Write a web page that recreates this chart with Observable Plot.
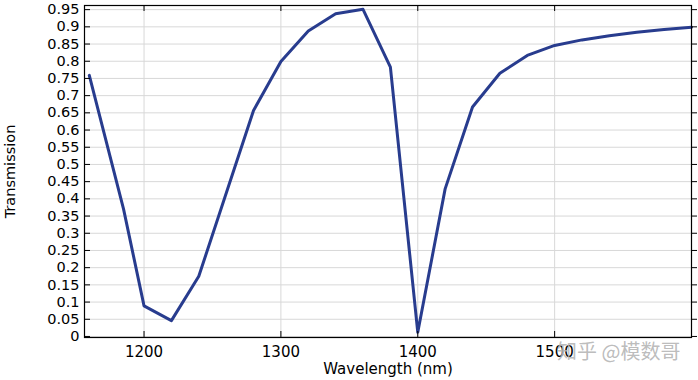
<!DOCTYPE html>
<html>
<head>
<meta charset="utf-8">
<script src="https://cdn.jsdelivr.net/npm/d3@7"></script>
<script src="https://cdn.jsdelivr.net/npm/@observablehq/plot@0.6"></script>
<style>
  html, body { margin: 0; padding: 0; background: #fff; }
  #chart svg { display: block; }
</style>
</head>
<body>
<div id="chart"></div>
<script>
const wavelength = [1160, 1185, 1200, 1220, 1240, 1280, 1300, 1320, 1340, 1360, 1380, 1400, 1420, 1440, 1460, 1480, 1500, 1520, 1540, 1560, 1580, 1600];
const transmission = [0.759, 0.371, 0.089, 0.046, 0.175, 0.657, 0.799, 0.888, 0.938, 0.951, 0.783, 0.012, 0.429, 0.667, 0.765, 0.817, 0.846, 0.862, 0.874, 0.884, 0.892, 0.899];
const xTicks = [1200, 1300, 1400, 1500];
const yTicks = [0, 0.05, 0.1, 0.15, 0.2, 0.25, 0.3, 0.35, 0.4, 0.45, 0.5, 0.55, 0.6, 0.65, 0.7, 0.75, 0.8, 0.85, 0.9, 0.95];
const xLabel = "Wavelength (nm)";
const yLabel = "Transmission";
const watermark = "知乎 @模数哥";

const data = wavelength.map((w, i) => ({w, t: transmission[i]}));
const fmt = d => String(+d.toFixed(2));

const W = 698, H = 380, mL = 84, mR = 7, mT = 5, mB = 43;
const frameW = W - mL - mR, frameH = H - mT - mB;
const tick = 6;

const chart = Plot.plot({
  width: W, height: H,
  marginLeft: mL, marginRight: mR, marginTop: mT, marginBottom: mB,
  x: {domain: [1156.5, 1600]},
  y: {domain: [-0.003, 0.962]},
  style: {fontFamily: "DejaVu Sans", fontSize: "14px", color: "#000", background: "#fff"},
  marks: [
    Plot.ruleY(yTicks, {stroke: "#d8d8d8", strokeWidth: 1}),
    Plot.ruleX(xTicks, {stroke: "#d8d8d8", strokeWidth: 1}),
    Plot.line(data, {x: "w", y: "t", stroke: "#283c8e", strokeWidth: 3, strokeLinejoin: "round"}),
    Plot.frame({stroke: "#000", strokeWidth: 1.2}),
    Plot.tickY(yTicks, {y: d => d, stroke: "#000", insetRight: frameW - tick}),
    Plot.tickX(xTicks, {x: d => d, stroke: "#000", insetTop: frameH - tick}),
    Plot.tickX(xTicks, {x: d => d, stroke: "#000", insetBottom: frameH - tick}),
    Plot.axisY({anchor: "right", ticks: yTicks, tickSize: 5, tickFormat: () => "", label: null}),
    Plot.axisY({anchor: "left", ticks: yTicks, tickSize: 0, tickPadding: 5, tickFormat: fmt,
      fontSize: 14.5, label: yLabel, labelAnchor: "center", labelArrow: "none", labelOffset: 80}),
    Plot.axisX({anchor: "bottom", ticks: xTicks, tickSize: 0, tickPadding: 9, tickFormat: d => String(d),
      fontSize: 15, label: xLabel, labelAnchor: "center", labelArrow: "none", labelOffset: 36}),
    Plot.text([watermark], {frameAnchor: "bottom-right", textAnchor: "end", lineAnchor: "middle",
      dx: -11, dy: 15, fontSize: 20, fill: "#b4b4b4", fillOpacity: 0.9, fontFamily: "Noto Sans CJK SC"})
  ]
});
document.getElementById("chart").appendChild(chart);
</script>
</body>
</html>
